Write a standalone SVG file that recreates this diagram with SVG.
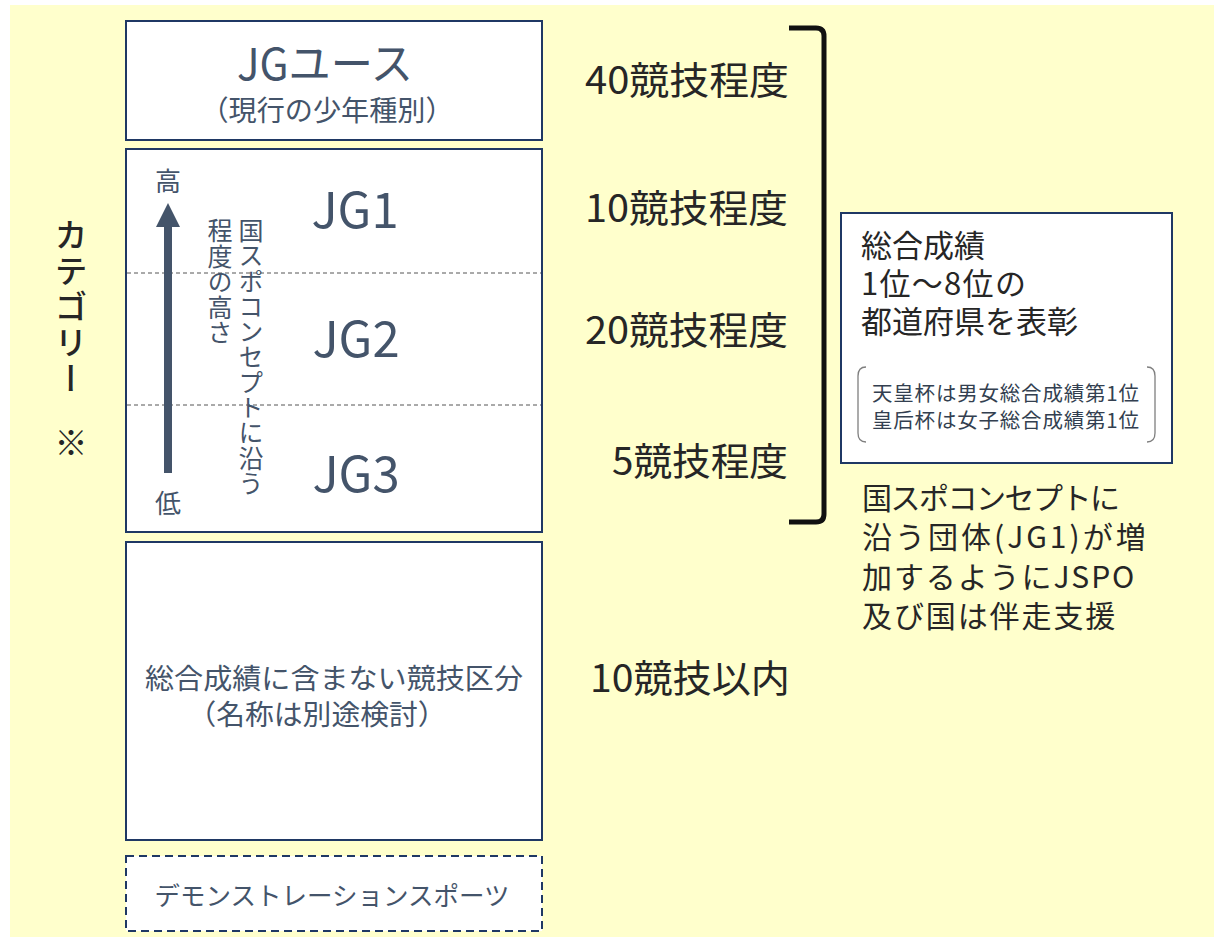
<svg xmlns="http://www.w3.org/2000/svg" width="1214" height="938" viewBox="0 0 1214 938">
<style>
text{font-family:"Noto Sans CJK JP","Noto Sans",sans-serif;}
.box{fill:#fff;stroke:#1F3864;stroke-width:2;}
.in{fill:#44546A;text-anchor:middle;}
.dk{fill:#262626;}
.num{fill:#262626;font-size:38px;}
.vt{writing-mode:vertical-rl;fill:#44546A;font-size:25px;}
.sep{stroke:#555;stroke-width:1;stroke-dasharray:4,3;}
</style>
<rect x="10" y="5" width="1204" height="932" fill="#FFFFCC"/>

<g id="category">
<text x="71" y="218" class="dk" font-size="33" font-weight="500" style="writing-mode:vertical-rl;letter-spacing:3px">カテゴリー</text>
<text x="71" y="455" class="dk" font-size="33" font-weight="500" text-anchor="middle">※</text>
</g>

<g id="jg-youth">
<rect class="box" x="126" y="21" width="416" height="119"/>
<text x="325" y="80" class="in" font-size="44" textLength="176" lengthAdjust="spacingAndGlyphs">JGユース</text>
<text x="327" y="121" class="in" font-size="28" textLength="253" lengthAdjust="spacingAndGlyphs">（現行の少年種別）</text>
</g>

<g id="jg-main">
<rect class="box" x="126" y="149" width="416" height="383"/>
<line class="sep" x1="127" y1="273" x2="541" y2="273"/>
<line class="sep" x1="127" y1="405" x2="541" y2="405"/>
<text x="168" y="191" class="in" font-size="26">高</text>
<text x="168" y="513" class="in" font-size="26">低</text>
<line x1="168" y1="473" x2="168" y2="222" stroke="#44546A" stroke-width="8"/>
<polygon points="168,203 180,227 156,227" fill="#44546A"/>
<text x="220" y="218" class="vt" style="letter-spacing:0.5px">程度の高さ</text>
<text x="251" y="218" class="vt" style="letter-spacing:0.3px">国スポコンセプトに沿う</text>
<g id="jg1"><text x="355" y="228" class="in" font-size="49">JG1</text></g>
<g id="jg2"><text x="356" y="357" class="in" font-size="49">JG2</text></g>
<g id="jg3"><text x="356" y="492" class="in" font-size="49">JG3</text></g>
</g>

<g id="non-total">
<rect class="box" x="126" y="542" width="416" height="298"/>
<text x="334" y="689" class="in" font-size="28" textLength="378" lengthAdjust="spacingAndGlyphs">総合成績に含まない競技区分</text>
<text x="317" y="725" class="in" font-size="28" textLength="259" lengthAdjust="spacingAndGlyphs">（名称は別途検討）</text>
</g>

<g id="demo">
<rect x="126" y="856" width="416" height="75" fill="#fff" stroke="#1F3864" stroke-width="2" stroke-dasharray="8,5"/>
<text x="332" y="905" class="in" font-size="25.5">デモンストレーションスポーツ</text>
</g>

<g id="counts">
<text x="585" y="94" class="num" textLength="204" lengthAdjust="spacingAndGlyphs">40競技程度</text>
<text x="585" y="222" class="num" textLength="203" lengthAdjust="spacingAndGlyphs">10競技程度</text>
<text x="585" y="344" class="num" textLength="203" lengthAdjust="spacingAndGlyphs">20競技程度</text>
<text x="612" y="475" class="num" textLength="176" lengthAdjust="spacingAndGlyphs">5競技程度</text>
<text x="590" y="692" class="num" textLength="200" lengthAdjust="spacingAndGlyphs">10競技以内</text>
</g>

<g id="connectors">
<path d="M789,28 H816 Q824,28 824,36 V514 Q824,522 816,522 H789" fill="none" stroke="#111" stroke-width="5"/>
</g>

<g id="award">
<rect class="box" x="841" y="213" width="331" height="250"/>
<text class="dk" font-size="31"><tspan x="861" y="257">総合成績</tspan><tspan x="861" y="295" style="letter-spacing:1.3px">1位～8位の</tspan><tspan x="861" y="333">都道府県を表彰</tspan></text>
<path d="M866,367 Q858,367 858,376 V433 Q858,442 866,442" fill="none" stroke="#7F7F7F" stroke-width="1.3"/>
<path d="M1147,367 Q1155,367 1155,376 V433 Q1155,442 1147,442" fill="none" stroke="#7F7F7F" stroke-width="1.3"/>
<text fill="#333F50" font-size="20.5" style="letter-spacing:0.8px"><tspan x="872" y="401">天皇杯は男女総合成績第1位</tspan><tspan x="872" y="428">皇后杯は女子総合成績第1位</tspan></text>
</g>

<g id="note">
<text class="dk" font-size="30"><tspan x="862" y="509" style="letter-spacing:-1.5px">国スポコンセプトに</tspan><tspan x="862" y="548" style="letter-spacing:3px">沿う団体(JG1)が増</tspan><tspan x="862" y="588" style="letter-spacing:1.9px">加するようにJSPO</tspan><tspan x="862" y="627" style="letter-spacing:1.9px">及び国は伴走支援</tspan></text>
</g>
</svg>
